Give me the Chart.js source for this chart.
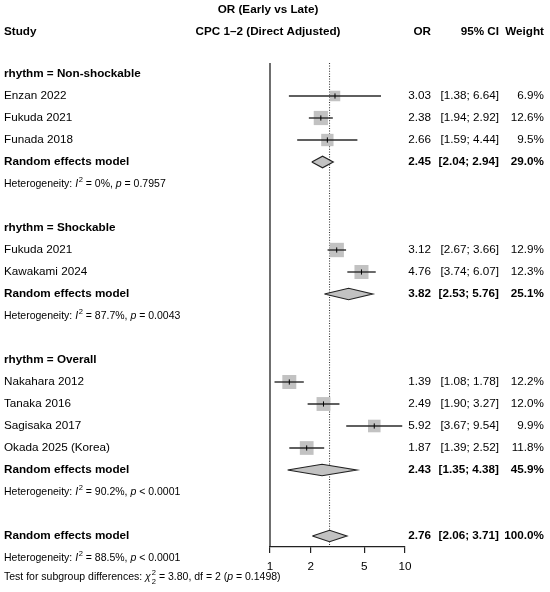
<!DOCTYPE html>
<html><head><meta charset="utf-8">
<script src="https://cdn.jsdelivr.net/npm/chart.js@4.4.1/dist/chart.umd.min.js"></script>
<style>html,body{margin:0;padding:0;background:#fff}#wrap{width:550px;height:592px;position:relative}</style>
</head><body><div id="wrap"><canvas id="c"></canvas></div>
<script>
// ---- data ----
const groupNames = ["Non-shockable", "Shockable", "Overall"];
const groupRows = [0, 7, 13];
const studyLabels = ["Enzan 2022", "Fukuda 2021", "Funada 2018", "Fukuda 2021", "Kawakami 2024", "Nakahara 2012", "Tanaka 2016", "Sagisaka 2017", "Okada 2025 (Korea)"];
const studyRows = [1, 2, 3, 8, 9, 14, 15, 16, 17];
const studyOR = [3.03, 2.38, 2.66, 3.12, 4.76, 1.39, 2.49, 5.92, 1.87];
const studyLower = [1.38, 1.94, 1.59, 2.67, 3.74, 1.08, 1.90, 3.67, 1.39];
const studyUpper = [6.64, 2.92, 4.44, 3.66, 6.07, 1.78, 3.27, 9.54, 2.52];
const studyWeight = [6.9, 12.6, 9.5, 12.9, 12.3, 12.2, 12.0, 9.9, 11.8];
const pooledRows = [4, 10, 18, 21];
const pooledOR = [2.45, 3.82, 2.43, 2.76];
const pooledLower = [2.04, 2.53, 1.35, 2.06];
const pooledUpper = [2.94, 5.76, 4.38, 3.71];
const pooledWeight = [29.0, 25.1, 45.9, 100.0];
const hetRows = [5, 11, 19, 22];
const hetI2 = ["0%", "87.7%", "90.2%", "88.5%"];
const hetP = ["= 0.7957", "= 0.0043", "< 0.0001", "< 0.0001"];
const testRow = 23;
const testChi2 = "3.80", testDf = "2", testP = "0.1498";
const xTicks = [1, 2, 5, 10];
const overallOR = 2.76;

const FF = '"Liberation Sans", Arial, Helvetica, sans-serif';
const BLACK = '#000';
const GRAY = '#C2C2C2';
const FS = 11.7;

// ---- datasets ----
const datasets = [];
datasets.push({type:'line', data:[{x:1,y:-0.5},{x:1,y:21.5}], borderColor:'#222', borderWidth:1.3, pointRadius:0, order:9, clip:false});
datasets.push({type:'line', data:[{x:overallOR,y:-0.5},{x:overallOR,y:21.5}], borderColor:'#333', borderWidth:1.1, borderDash:[1,1.6], pointRadius:0, order:8, clip:false});
datasets.push({type:'scatter', data: studyOR.map((v,i)=>({x:v,y:studyRows[i]})),
  pointStyle:'rect', pointRadius: studyWeight.map(w => 4*Math.sqrt(w)/Math.SQRT2),
  backgroundColor:GRAY, borderWidth:0, order:7, clip:false});
studyOR.forEach((v,i)=>{
  datasets.push({type:'line', data:[{x:studyLower[i],y:studyRows[i]},{x:studyUpper[i],y:studyRows[i]}],
    borderColor:'#2a2a2a', borderWidth:1.4, pointRadius:0, order:4, clip:false});
});
datasets.push({type:'scatter', data: studyOR.map((v,i)=>({x:v,y:studyRows[i]})),
  pointStyle:'line', rotation:90, pointRadius:2.6, borderColor:'#000', borderWidth:1, order:1, clip:false});
const dh = 0.26;
pooledOR.forEach((v,i)=>{
  const r = pooledRows[i];
  datasets.push({type:'line', data:[{x:pooledLower[i],y:r},{x:v,y:r-dh},{x:pooledUpper[i],y:r},{x:v,y:r+dh},{x:pooledLower[i],y:r}],
    borderColor:'#222', borderWidth:1.2, backgroundColor:GRAY, fill:'shape', pointRadius:0, tension:0, order:2, clip:false});
});

// ---- text plugin ----
function rich(ctx, x, y, segs, size){
  let cx = x;
  for (const s of segs){
    if (s.stack){
      ctx.font = `${size*0.72}px ${FF}`;
      const w = Math.max(ctx.measureText(s.sup).width, ctx.measureText(s.sub).width);
      ctx.fillText(s.sup, cx+1, y - size*0.42);
      ctx.fillText(s.sub, cx+1, y + size*0.38);
      cx += w + 1; continue;
    }
    const fs = s.sup ? size*0.72 : size;
    ctx.font = `${s.it?'italic ':''}${fs}px ${FF}`;
    ctx.fillText(s.t, cx + (s.sup?0.5:0), y + (s.sup ? -size*0.42 : 0));
    cx += ctx.measureText(s.t).width + (s.sup?0.5:0);
  }
}
const textPlugin = {
  id:'forestText',
  afterDraw(chart){
    const ctx = chart.ctx, ys = chart.scales.y;
    const py = r => ys.getPixelForValue(r);
    ctx.save();
    ctx.fillStyle = BLACK;
    ctx.textBaseline = 'middle';
    const txt = (t, x, y, align, bold, size) => {
      ctx.font = `${bold?'bold ':''}${size||FS}px ${FF}`;
      ctx.textAlign = align; ctx.fillText(t, x, y);
    };
    const xOR = 431, xCI = 499, xW = 544, xL = 4, xMid = 268;
    txt('OR (Early vs Late)', xMid, py(-2.9), 'center', true);
    const hy = py(-1.94);
    txt('Study', xL, hy, 'left', true);
    txt('CPC 1\u20132 (Direct Adjusted)', xMid, hy, 'center', true);
    txt('OR', xOR, hy, 'right', true);
    txt('95% CI', xCI, hy, 'right', true);
    txt('Weight', xW, hy, 'right', true);
    groupNames.forEach((g,i)=> txt('rhythm = ' + g, xL, py(groupRows[i]), 'left', true));
    studyLabels.forEach((s,i)=>{
      const y = py(studyRows[i]);
      txt(s, xL, y, 'left', false);
      txt(studyOR[i].toFixed(2), xOR, y, 'right', false);
      txt('[' + studyLower[i].toFixed(2) + '; ' + studyUpper[i].toFixed(2) + ']', xCI, y, 'right', false);
      txt(studyWeight[i].toFixed(1) + '%', xW, y, 'right', false);
    });
    pooledRows.forEach((r,i)=>{
      const y = py(r);
      txt('Random effects model', xL, y, 'left', true);
      txt(pooledOR[i].toFixed(2), xOR, y, 'right', true);
      txt('[' + pooledLower[i].toFixed(2) + '; ' + pooledUpper[i].toFixed(2) + ']', xCI, y, 'right', true);
      txt(pooledWeight[i].toFixed(1) + '%', xW, y, 'right', true);
    });
    ctx.textAlign = 'left';
    const hs = 10.5;
    hetRows.forEach((r,i)=>{
      rich(ctx, xL, py(r), [
        {t:'Heterogeneity: '}, {t:'I', it:true}, {t:'2', sup:true},
        {t:' = ' + hetI2[i] + ', '}, {t:'p', it:true}, {t:' ' + hetP[i]}
      ], hs);
    });
    rich(ctx, xL, py(testRow) - 2.5, [
      {t:'Test for subgroup differences: '}, {t:'\u03C7', it:true}, {stack:true, sup:'2', sub:testDf},
      {t:' = ' + testChi2 + ', df = ' + testDf + ' ('}, {t:'p', it:true}, {t:' = ' + testP + ')'}
    ], hs);
    ctx.restore();
  }
};

Chart.defaults.color = '#000';
Chart.defaults.font.family = FF;
Chart.defaults.font.size = FS;

new Chart(document.getElementById('c'), {
  type:'scatter',
  data:{datasets},
  options:{
    responsive:true, maintainAspectRatio:false, animation:false,
    layout:{padding:{left:270, right:145, top:63, bottom:15}},
    plugins:{legend:{display:false}, tooltip:{enabled:false}},
    scales:{
      x:{type:'logarithmic', min:1, max:10,
        afterBuildTicks: s => { s.ticks = xTicks.map(v=>({value:v})); },
        afterFit: s => { s.height = 30; },
        ticks:{autoSkip:false, maxRotation:0, padding:7, color:'#000', font:{size:FS},
          callback: v => String(v)},
        grid:{display:true, drawOnChartArea:false, drawTicks:true, tickLength:6, color:'#222', lineWidth:1.2},
        border:{display:true, color:'#222', width:1.3}
      },
      y:{type:'linear', display:false, min:-0.5, max:21.5, reverse:true}
    }
  },
  plugins:[textPlugin]
});
</script>
</body></html>
